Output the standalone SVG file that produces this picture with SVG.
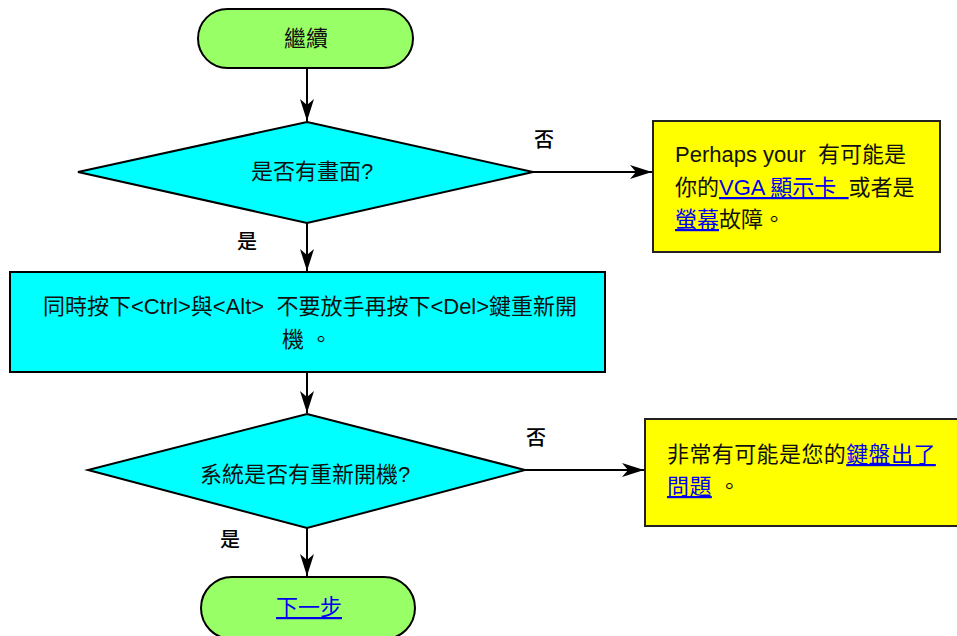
<svg xmlns="http://www.w3.org/2000/svg" width="957" height="636" viewBox="0 0 957 636">
<style>
  .term { fill: #99FF66; stroke: #000; stroke-width: 2; }
  .proc { fill: #00FFFF; stroke: #000; stroke-width: 2; }
  .note { fill: #FFFF00; stroke: #222; stroke-width: 2; }
  .t { font-family: "Liberation Sans", "Noto Sans CJK TC", sans-serif; font-size: 22px; fill: #111; }
  .mid { text-anchor: middle; }
  .lbl { font-family: "Noto Sans CJK TC", "Liberation Sans", sans-serif; font-size: 20px; font-weight: 500; fill: #000; text-anchor: middle; }
  .link { fill: #0000EE; text-decoration: underline; }
  .conn { stroke: #000; stroke-width: 2; fill: none; marker-end: url(#arr); }
</style>
<defs>
  <marker id="arr" markerUnits="userSpaceOnUse" markerWidth="24" markerHeight="16" refX="22" refY="8" orient="auto">
    <path d="M0,1 L22,8 L0,15 L6,8 z" fill="#000"/>
  </marker>
</defs>
<rect width="957" height="636" fill="#fff"/>

<g id="connectors">
  <line class="conn" x1="307" y1="68" x2="307" y2="121"/>
  <line class="conn" x1="307" y1="223" x2="307" y2="271"/>
  <line class="conn" x1="307" y1="372" x2="307" y2="413"/>
  <line class="conn" x1="307" y1="528" x2="307" y2="576"/>
  <line class="conn" x1="533" y1="172" x2="652" y2="172"/>
  <line class="conn" x1="525" y1="470" x2="644" y2="470"/>
  <text class="lbl" x="544" y="147">否</text>
  <text class="lbl" x="247" y="249">是</text>
  <text class="lbl" x="536" y="445">否</text>
  <text class="lbl" x="230" y="547">是</text>
</g>

<g id="start">
  <rect class="term" x="198" y="9" width="215" height="59" rx="29.5"/>
  <text class="t mid" x="306" y="46">繼續</text>
</g>

<g id="decision1">
  <polygon class="proc" points="307,122 533,172 307,223 78,172"/>
  <text class="t mid" x="312" y="179">是否有畫面?</text>
</g>

<g id="note1">
  <rect class="note" x="653" y="121" width="287" height="131"/>
  <text class="t" xml:space="preserve"><tspan x="675" y="162">Perhaps your  有可能是</tspan><tspan x="675" y="195">你的<tspan class="link">VGA 顯示卡  </tspan>或者是</tspan><tspan x="675" y="227"><tspan class="link">螢幕</tspan>故障。</tspan></text>
</g>

<g id="restart">
  <rect class="proc" x="10" y="272" width="595" height="100"/>
  <text class="t mid" xml:space="preserve"><tspan x="310" y="314">同時按下&lt;Ctrl&gt;與&lt;Alt&gt;  不要放手再按下&lt;Del&gt;鍵重新開</tspan><tspan x="307" y="347">機 。</tspan></text>
</g>

<g id="decision2">
  <polygon class="proc" points="307,414 525,470 307,528 88,470"/>
  <text class="t mid" x="305" y="482">系統是否有重新開機?</text>
</g>

<g id="note2">
  <rect class="note" x="645" y="419" width="320" height="107"/>
  <text class="t" xml:space="preserve" letter-spacing="0.4"><tspan x="667" y="462">非常有可能是您的<tspan class="link">鍵盤出了</tspan></tspan><tspan x="667" y="494"><tspan class="link">問題</tspan> 。</tspan></text>
</g>

<g id="next">
  <rect class="term" x="201" y="577" width="214" height="62" rx="31"/>
  <text class="t mid" x="309" y="615"><tspan class="link">下一步</tspan></text>
</g>
</svg>
